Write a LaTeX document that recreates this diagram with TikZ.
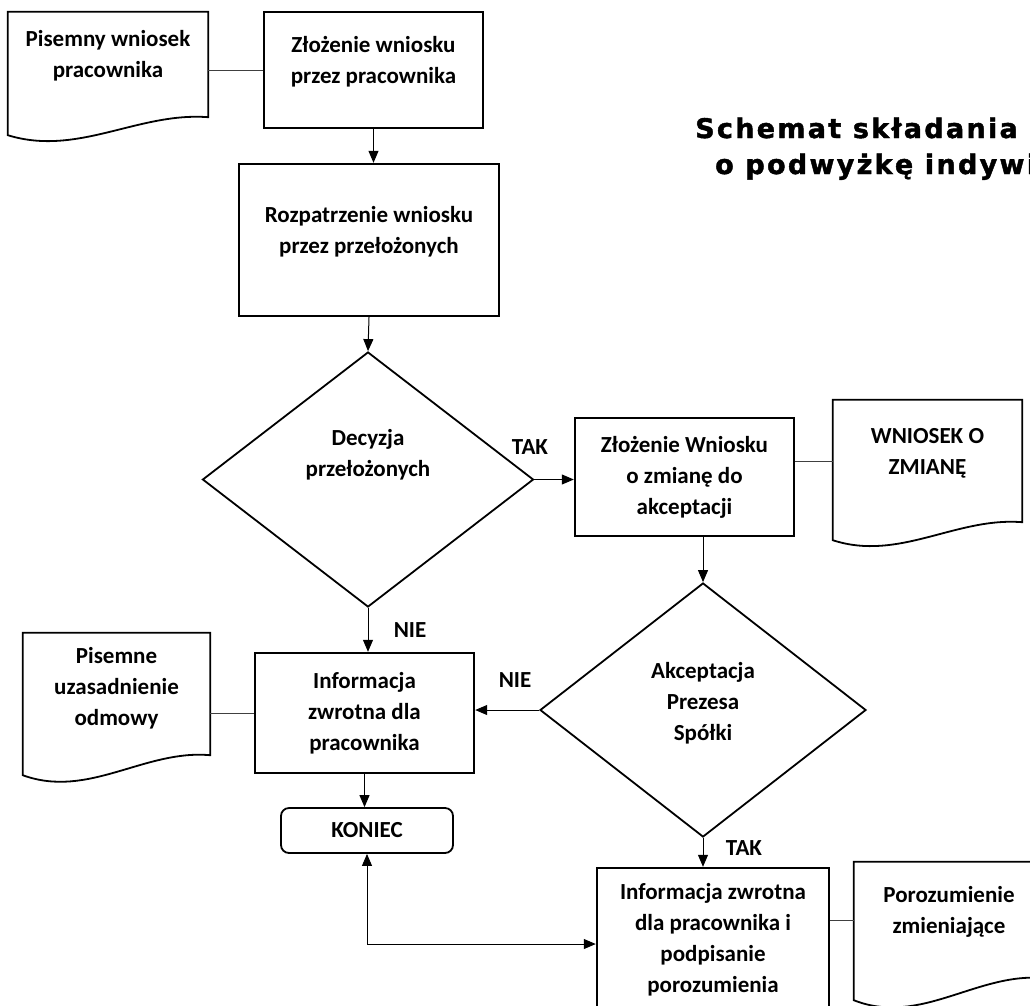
\documentclass[tikz,border=0pt]{standalone}
\usepackage{fontspec}
\setmainfont{Carlito}
\newfontfamily\titlefont[BoldFeatures={FakeBold=1.6,LetterSpace=8.5}]{DejaVu Sans}
\usetikzlibrary{shapes.geometric,arrows.meta,calc}

\tikzset{
  box/.style={draw, line width=2.4pt, align=center, inner sep=2pt},
  decision/.style={draw, diamond, line width=1.8pt, align=center, inner sep=0pt, aspect=1.3},
  doc/.style={align=center, inner sep=0pt},
  docline/.style={line width=1.8pt},
  link/.style={line width=0.9pt, black!75},
  flow/.style={line width=1pt, -{Triangle[length=12pt,width=10pt]}},
  answer/.style={inner sep=0pt}
}
\newcommand{\docoutline}[2]{\draw[docline] (#1.north west) -- (#1.north east) -- (#1.south east)
  .. controls ($(#1.south east)!0.35!(#1.south west)+(0,-0.3*#2)$) and ($(#1.south east)!0.65!(#1.south west)+(0,2.2*#2)$) .. ($(#1.south west)+(0,#2)$) -- cycle;}

\begin{document}
\begin{tikzpicture}[x=1pt,y=-1pt,font=\fontsize{23}{31}\selectfont\bfseries]
\useasboundingbox (0,0) rectangle (1030,1005);
\node[doc, minimum width=200pt, minimum height=105pt, text depth=21pt] (pisemny) at (108,64.5) {Pisemny wniosek\\pracownika};
\node[box, minimum width=219pt, minimum height=116pt, text depth=21pt] (zloz) at (373.5,70) {Złożenie wniosku\\przez pracownika};
\node[box, minimum width=260pt, minimum height=152pt, text depth=21pt] (rozp) at (369,240) {Rozpatrzenie wniosku\\przez przełożonych};
\node[decision, minimum width=331pt, minimum height=255pt, text depth=53pt] (decyzja) at (368,479.5) {Decyzja\\przełożonych};
\node[box, minimum width=219pt, minimum height=118pt] (zlozw) at (684.5,477) {Złożenie Wniosku\\o zmianę do\\akceptacji};
\node[doc, minimum width=189pt, minimum height=122pt, text depth=20pt] (wniosek) at (927.5,461) {WNIOSEK O\\ZMIANĘ};
\node[decision, minimum width=326pt, minimum height=254pt, text depth=18pt] (akcept) at (703,710) {Akceptacja\\Prezesa\\Spółki};
\node[box, minimum width=219pt, minimum height=120pt] (info) at (364.5,713) {Informacja\\zwrotna dla\\pracownika};
\node[doc, minimum width=187pt, minimum height=122pt, text depth=15pt] (pisemne) at (116.5,694) {Pisemne\\uzasadnienie\\odmowy};
\node[draw, line width=1.8pt, rounded corners=8pt, minimum width=172pt, minimum height=45pt] (koniec) at (367,830.5) {KONIEC};
\node[box, minimum width=232pt, minimum height=152pt, text depth=13pt] (infopodp) at (713,944) {Informacja zwrotna\\dla pracownika i\\podpisanie\\porozumienia};
\node[doc, minimum width=190pt, minimum height=116pt, text depth=21pt] (poroz) at (949,920) {Porozumienie\\zmieniające};
\docoutline{pisemny}{18}
\docoutline{wniosek}{18}
\docoutline{pisemne}{20}
\docoutline{poroz}{22}
\node[answer] (tak1) at (530,447) {TAK};
\node[answer] (nie1) at (410,630) {NIE};
\node[answer] (nie2) at (515,680) {NIE};
\node[answer] (tak2) at (744,848) {TAK};
\node[anchor=base west, inner sep=0pt, font=\titlefont\bfseries\fontsize{27}{27}\selectfont] (title1) at (695,138) {Schemat składania};
\node[anchor=base west, inner sep=0pt, font=\titlefont\bfseries\fontsize{27}{27}\selectfont] (title2) at (715,174) {o podwyżkę indywi};
\draw[link] (pisemny.east |- zloz.west) -- (zloz.west);
\draw[link] (zlozw.east |- wniosek.west) -- (wniosek.west);
\draw[link] (pisemne.east |- info.west) -- (info.west);
\draw[link] (infopodp.east |- poroz.west) -- (poroz.west);
\draw[flow] (zloz.south) -- (zloz.south |- rozp.north);
\draw[flow] (rozp.south) -- (decyzja.north);
\draw[flow] (decyzja.east) -- (decyzja.east -| zlozw.west);
\draw[flow] (akcept.north |- zlozw.south) -- (akcept.north);
\draw[flow] (decyzja.south) -- (decyzja.south |- info.north);
\draw[flow] (akcept.west) -- (akcept.west -| info.east);
\draw[flow] (info.south) -- (info.south |- koniec.north);
\draw[flow] (akcept.south) -- (akcept.south |- infopodp.north);
\draw[flow, {Triangle[length=12pt,width=10pt]}-{Triangle[length=12pt,width=10pt]}] (koniec.south) |- (infopodp.west);
\end{tikzpicture}
\end{document}
